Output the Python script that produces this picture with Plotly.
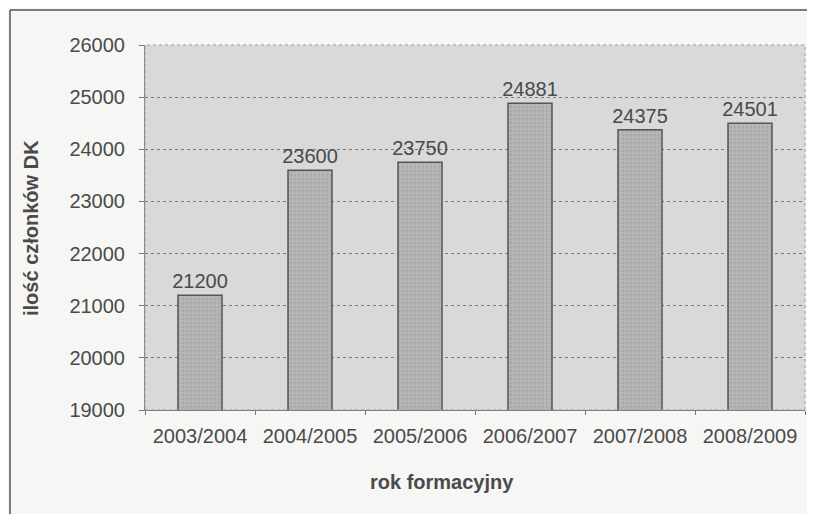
import plotly.graph_objects as go

categories = ["2003/2004", "2004/2005", "2005/2006", "2006/2007", "2007/2008", "2008/2009"]
members = [21200, 23600, 23750, 24881, 24375, 24501]
y_ticks = [19000, 20000, 21000, 22000, 23000, 24000, 25000, 26000]

FONT = "Liberation Sans, Arial, sans-serif"
TXT = "#4a4a4a"
FS = 20

fig = go.Figure()
fig.add_trace(go.Bar(
    x=categories, y=members,
    width=0.4,
    marker=dict(color="#b2b2b2", line=dict(color="#555555", width=1.5),
                pattern=dict(shape=".", fgcolor="#9a9a9a", bgcolor="#b6b6b6", size=4, solidity=0.3)),
    text=[str(v) for v in members], textposition="outside",
    textfont=dict(family=FONT, size=FS, color=TXT),
    constraintext="none",
    cliponaxis=False,
))

# page body has an 8px margin; figure sized to fill the rest of the window
OFF = 8
W, H = 815 - OFF, 514 - OFF
L, R, T, B = 145 - OFF, 10, 45 - OFF, 104
pw, ph = W - L - R, H - T - B

def px(x):
    return (x - OFF - L) / pw

def py(y):
    return (H - B - (y - OFF)) / ph

fig.update_layout(
    width=W, height=H,
    margin=dict(l=L, r=R, t=T, b=B, autoexpand=False),
    paper_bgcolor="#f6f6f4",
    plot_bgcolor="#d9d9d9",
    showlegend=False,
    font=dict(family=FONT, color=TXT),
    xaxis=dict(
        automargin=False,
        tickfont=dict(size=FS, color=TXT),
        showline=True, linecolor="#777777", linewidth=1,
        ticks="outside", ticklen=4, tickcolor="#777777",
        tickson="boundaries",
        ticklabelstandoff=8,
    ),
    yaxis=dict(
        automargin=False,
        range=[19000, 26000],
        tickvals=y_ticks,
        ticktext=[str(v) for v in y_ticks],
        tickfont=dict(size=FS, color=TXT),
        showgrid=True, gridcolor="#7a7a7a", griddash="dot", gridwidth=1,
        showline=True, linecolor="#888888", linewidth=1,
        ticks="outside", ticklen=5, tickcolor="#777777",
        ticklabelstandoff=10,
        zeroline=False,
    ),
    annotations=[
        dict(text="<b>ilość członków DK</b>", xref="paper", yref="paper",
             x=px(31), y=py(228), xanchor="center", yanchor="middle",
             textangle=-90, showarrow=False, font=dict(size=FS, color=TXT)),
        dict(text="<b>rok formacyjny</b>", xref="paper", yref="paper",
             x=px(442), y=py(482), xanchor="center", yanchor="middle",
             showarrow=False, font=dict(size=FS, color=TXT)),
    ],
    shapes=[
        dict(type="line", xref="paper", yref="paper", x0=px(10), x1=px(815), y0=py(10), y1=py(10),
             line=dict(color="#555555", width=1.5)),
        dict(type="line", xref="paper", yref="paper", x0=px(10), x1=px(10), y0=py(10), y1=py(514),
             line=dict(color="#555555", width=1.5)),
        dict(type="rect", xref="paper", yref="paper", x0=0, x1=1, y0=0, y1=1,
             line=dict(color="#999999", width=1, dash="dot"), layer="above"),
    ],
)

fig.write_html("out.html")
